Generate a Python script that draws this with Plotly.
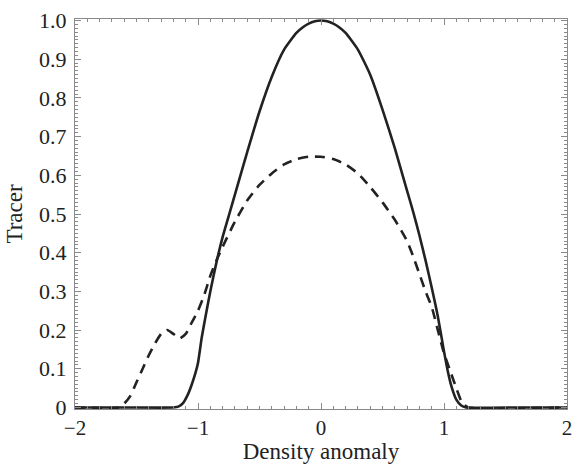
import plotly.graph_objects as go

# Solid curve
solid_x = [-2.0, -1.6, -1.2, -1.16, -1.12, -1.08, -1.05, -1.02, -1.0, -0.97, -0.93, -0.9,
           -0.85, -0.8, -0.75, -0.7, -0.6, -0.5, -0.4, -0.3, -0.2, -0.15, -0.1, -0.05, 0.0,
           0.05, 0.1, 0.15, 0.2, 0.3, 0.4, 0.5, 0.6, 0.7, 0.75, 0.8, 0.85, 0.9, 0.95, 1.0,
           1.03, 1.06, 1.1, 1.14, 1.18, 1.6, 2.0]
solid_y = [0.0, 0.0, 0.0, 0.002, 0.012, 0.035, 0.06, 0.09, 0.115, 0.18, 0.25, 0.3,
           0.375, 0.44, 0.495, 0.55, 0.66, 0.765, 0.855, 0.925, 0.968, 0.982, 0.992, 0.998, 1.0,
           0.998, 0.992, 0.982, 0.968, 0.925, 0.86, 0.77, 0.67, 0.56, 0.505, 0.445, 0.38, 0.31, 0.235, 0.145,
           0.095, 0.055, 0.02, 0.005, 0.0, 0.0, 0.0]

# Dashed curve
dash_x = [-2.0, -1.65, -1.6, -1.55, -1.5, -1.45, -1.4, -1.35, -1.3, -1.25, -1.2, -1.15,
          -1.1, -1.05, -1.0, -0.95, -0.9, -0.85, -0.8, -0.7, -0.6, -0.5, -0.4, -0.3,
          -0.2, -0.1, 0.0, 0.1, 0.2, 0.3, 0.4, 0.5, 0.6, 0.7, 0.75, 0.8, 0.85, 0.9,
          0.95, 1.0, 1.05, 1.1, 1.15, 1.2, 2.0]
dash_y = [0.0, 0.0, 0.01, 0.03, 0.065, 0.1, 0.135, 0.165, 0.19, 0.2, 0.19, 0.178,
          0.19, 0.22, 0.25, 0.29, 0.34, 0.38, 0.415, 0.48, 0.535, 0.575, 0.605, 0.628,
          0.642, 0.648, 0.648, 0.642, 0.628, 0.605, 0.57, 0.53, 0.485, 0.43, 0.39, 0.345, 0.3, 0.26,
          0.2, 0.14, 0.095, 0.05, 0.01, 0.0, 0.0]

x_ticks = [-2, -1, 0, 1, 2]
x_labels = ["\u22122", "\u22121", "0", "1", "2"]
y_ticks = [0, 0.1, 0.2, 0.3, 0.4, 0.5, 0.6, 0.7, 0.8, 0.9, 1.0]
y_labels = ["0", "0.1", "0.2", "0.3", "0.4", "0.5", "0.6", "0.7", "0.8", "0.9", "1.0"]

fig = go.Figure()
fig.add_trace(go.Scatter(x=solid_x, y=solid_y, mode="lines",
                         line=dict(color="#222222", width=2.6, shape="spline", smoothing=0.5),
                         showlegend=False))
fig.add_trace(go.Scatter(x=dash_x, y=dash_y, mode="lines",
                         line=dict(color="#222222", width=2.6, dash="10px,7px", shape="spline", smoothing=0.5),
                         showlegend=False))

font_family = "Liberation Serif, Times New Roman, serif"
axis_common = dict(
    showline=True, linecolor="#8a8a8a", linewidth=1, mirror="ticks",
    ticks="inside", tickcolor="#8a8a8a", ticklen=6, tickwidth=1,
    showgrid=False, zeroline=False,
)

fig.update_xaxes(range=[-2, 2], tickvals=x_ticks, ticktext=x_labels, ticklabelstandoff=0,
                 tickfont=dict(family=font_family, size=21, color="#222222"),
                 minor=dict(dtick=0.1, ticklen=3, ticks="inside", tickcolor="#8a8a8a", showgrid=False),
                 title=dict(text="Density anomaly", font=dict(family=font_family, size=23, color="#222222"),
                            standoff=8),
                 automargin=False, **axis_common)
fig.update_yaxes(range=[-0.004, 1.004], tickvals=y_ticks, ticktext=y_labels, ticklabelstandoff=3,
                 tickfont=dict(family=font_family, size=22, color="#222222"),
                 minor=dict(dtick=0.01, ticklen=3, ticks="inside", tickcolor="#8a8a8a", showgrid=False),
                 title=dict(text="Tracer", font=dict(family=font_family, size=23, color="#222222"),
                            standoff=10),
                 automargin=False, **axis_common)

fig.update_layout(
    width=574, height=464,
    margin=dict(l=75, r=7, t=19, b=55),
    paper_bgcolor="white", plot_bgcolor="white",
)

fig.write_html("out.html")
